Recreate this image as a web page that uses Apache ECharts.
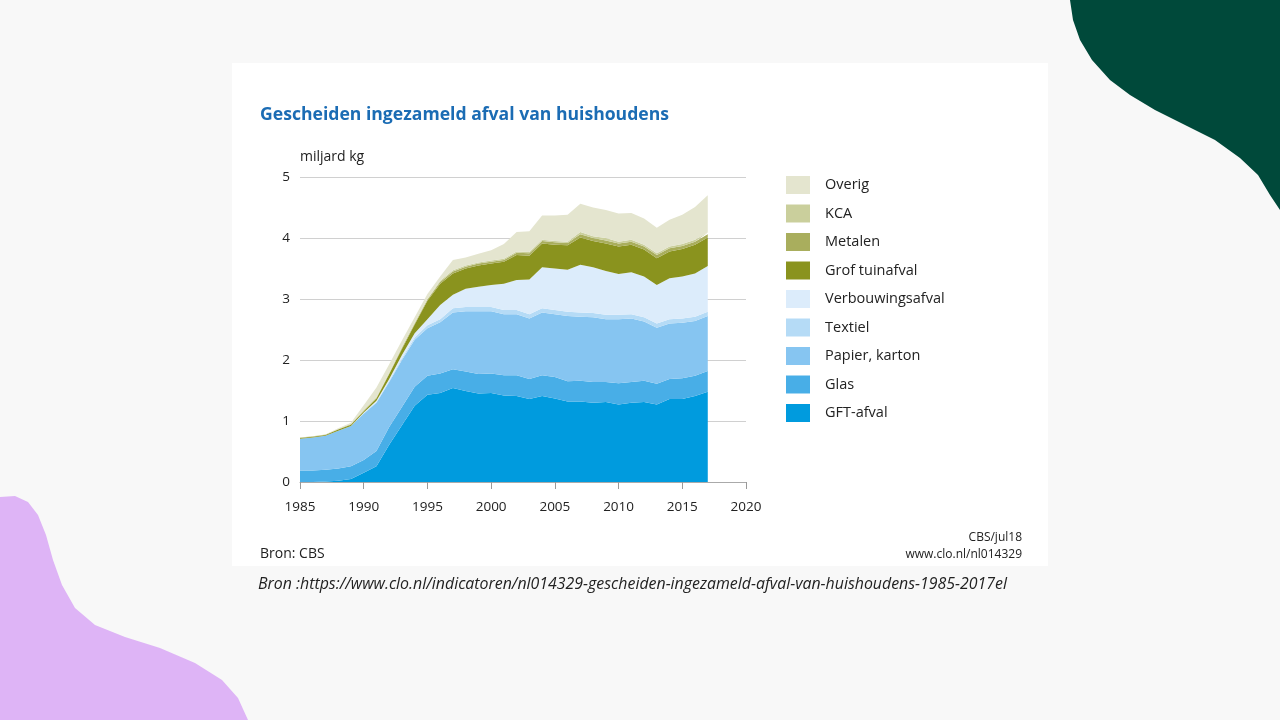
<!doctype html>
<html>
    <head>
        <meta charset="utf-8">
        <style>
            html, body { margin: 0; padding: 0; background: #f8f8f8; }
            #main { width: 1280px; height: 720px; }
        </style>
    </head>
    <body>
        <div id="main"></div>
        <script src="https://cdn.jsdelivr.net/npm/echarts@6/dist/echarts.min.js"></script>
        <script>
            // jaren 1985-2017, miljard kg; de as loopt door tot 2020
            var axisYears = [];
            for (var y = 1985; y <= 2020; y++) axisYears.push(String(y));

            var gft = [0.00, 0.00, 0.01, 0.02, 0.05, 0.15, 0.26, 0.61, 0.93, 1.25, 1.43, 1.46, 1.54, 1.49, 1.45, 1.46,
                1.42, 1.41, 1.36, 1.41, 1.37, 1.32, 1.32, 1.30, 1.31, 1.27, 1.30, 1.31, 1.27, 1.36, 1.36, 1.41, 1.48];
            var glas = [0.19, 0.19, 0.19, 0.20, 0.21, 0.21, 0.25, 0.29, 0.30, 0.31, 0.31, 0.32, 0.31, 0.32, 0.32, 0.32,
                0.33, 0.34, 0.33, 0.34, 0.35, 0.33, 0.34, 0.34, 0.33, 0.35, 0.34, 0.35, 0.34, 0.33, 0.34, 0.33, 0.34];
            var papier = [0.52, 0.54, 0.56, 0.62, 0.66, 0.76, 0.79, 0.74, 0.77, 0.77, 0.78, 0.84, 0.93, 0.99, 1.03, 1.02,
                1.00, 1.00, 0.99, 1.03, 1.03, 1.07, 1.05, 1.06, 1.03, 1.05, 1.04, 0.97, 0.92, 0.91, 0.91, 0.90, 0.90];
            var textiel = [0, 0, 0, 0, 0, 0.01, 0.01, 0.02, 0.03, 0.04, 0.05, 0.05, 0.07, 0.07, 0.07, 0.07,
                0.07, 0.07, 0.07, 0.07, 0.07, 0.07, 0.07, 0.07, 0.07, 0.07, 0.07, 0.07, 0.07, 0.07, 0.07, 0.07, 0.07];
            var verbouw = [0, 0, 0, 0, 0, 0.01, 0.02, 0.03, 0.05, 0.07, 0.10, 0.23, 0.22, 0.30, 0.33, 0.36,
                0.43, 0.49, 0.57, 0.67, 0.68, 0.69, 0.78, 0.75, 0.72, 0.67, 0.69, 0.67, 0.63, 0.67, 0.69, 0.71, 0.75];
            var grof = [0.01, 0.01, 0.01, 0.02, 0.02, 0.02, 0.04, 0.08, 0.10, 0.14, 0.30, 0.35, 0.35, 0.33, 0.35, 0.35,
                0.36, 0.41, 0.39, 0.39, 0.39, 0.40, 0.45, 0.43, 0.45, 0.45, 0.45, 0.44, 0.44, 0.44, 0.45, 0.47, 0.47];
            var metalen = [0.005, 0.005, 0.005, 0.005, 0.005, 0.01, 0.01, 0.01, 0.02, 0.02, 0.02, 0.03, 0.03, 0.03, 0.03, 0.03,
                0.03, 0.04, 0.04, 0.04, 0.04, 0.04, 0.05, 0.05, 0.05, 0.05, 0.05, 0.05, 0.05, 0.05, 0.05, 0.05, 0.05];
            var kca = [0.005, 0.005, 0.005, 0.005, 0.005, 0.01, 0.01, 0.01, 0.01, 0.01, 0.01, 0.02, 0.02, 0.02, 0.02, 0.02,
                0.02, 0.02, 0.02, 0.02, 0.02, 0.02, 0.04, 0.03, 0.04, 0.03, 0.03, 0.03, 0.03, 0.03, 0.03, 0.03, 0.03];
            var overig = [0, 0, 0, 0.01, 0.02, 0.08, 0.16, 0.14, 0.11, 0.09, 0.08, 0.07, 0.17, 0.13, 0.14, 0.17,
                0.24, 0.32, 0.34, 0.40, 0.42, 0.44, 0.46, 0.47, 0.46, 0.46, 0.44, 0.43, 0.42, 0.44, 0.48, 0.54, 0.61];

            var names = ['GFT-afval', 'Glas', 'Papier, karton', 'Textiel', 'Verbouwingsafval',
                'Grof tuinafval', 'Metalen', 'KCA', 'Overig'];
            var values = [gft, glas, papier, textiel, verbouw, grof, metalen, kca, overig];
            var colors = ['#009bde', '#48aee7', '#86c5f1', '#b5dbf6', '#dcecfb',
                '#8a931e', '#a9ae5d', '#cacf9c', '#e4e5cf'];

            var font = '"Open Sans", "Noto Sans", sans-serif';

            // decoratieve vormen in de hoeken
            var greenBlob = [[1070, 0], [1073, 20], [1080, 40], [1092, 60], [1110, 80], [1130, 95], [1155, 110],
                [1185, 125], [1215, 140], [1240, 158], [1258, 175], [1270, 195], [1280, 210], [1280, 0]];
            var purpleBlob = [[0, 497], [15, 496], [28, 502], [38, 515], [46, 535], [53, 560], [62, 585], [75, 608],
                [95, 625], [125, 637], [160, 648], [195, 663], [222, 680], [238, 698], [248, 720], [0, 720]];

            var chart = echarts.init(document.getElementById('main'));

            chart.setOption({
                backgroundColor: '#f8f8f8',
                textStyle: { fontFamily: font },
                animation: false,
                graphic: [
                    { type: 'rect', z: -10, shape: { x: 232, y: 63, width: 816, height: 503 }, style: { fill: '#ffffff' } },
                    { type: 'polygon', z: -10, shape: { points: greenBlob }, style: { fill: '#00493a' } },
                    { type: 'polygon', z: -10, shape: { points: purpleBlob }, style: { fill: '#deb4f6' } },
                    { type: 'text', left: 260, top: 106, style: { text: 'Gescheiden ingezameld afval van huishoudens',
                        font: 'bold 17.6px ' + font, fill: '#1b6cb4' } },
                    { type: 'text', left: 300, top: 150, style: { text: 'miljard kg', font: '14px ' + font, fill: '#222' } },
                    { type: 'text', left: 260, top: 547, style: { text: 'Bron: CBS', font: '14px ' + font, fill: '#222' } },
                    { type: 'text', right: 258, top: 532, style: { text: 'CBS/jul18', font: '12px ' + font, fill: '#222', align: 'right' } },
                    { type: 'text', right: 258, top: 549, style: { text: 'www.clo.nl/nl014329', font: '12px ' + font, fill: '#222', align: 'right' } },
                    { type: 'text', left: 258, top: 576, style: { text: 'Bron :https://www.clo.nl/indicatoren/nl014329-gescheiden-ingezameld-afval-van-huishoudens-1985-2017el',
                        font: 'italic 15.9px ' + font, fill: '#222' } }
                ],
                legend: {
                    orient: 'vertical',
                    left: 786,
                    top: 176,
                    padding: 0,
                    icon: 'rect',
                    itemWidth: 24,
                    itemHeight: 18,
                    itemGap: 10.5,
                    data: names.slice().reverse(),
                    textStyle: { fontSize: 14.5, color: '#222', fontFamily: font, padding: [0, 0, 0, 10] }
                },
                grid: { left: 300, top: 177, width: 446, height: 305 },
                xAxis: {
                    type: 'category',
                    data: axisYears,
                    boundaryGap: false,
                    axisLine: { show: true, lineStyle: { color: '#aaa' } },
                    axisTick: { show: true, interval: 4, length: 7, lineStyle: { color: '#999' } },
                    splitLine: { show: false },
                    axisLabel: { interval: 4, color: '#222', fontSize: 13.5, margin: 18 }
                },
                yAxis: {
                    type: 'value',
                    min: 0,
                    max: 5,
                    interval: 1,
                    axisLine: { show: false },
                    axisTick: { show: false },
                    splitLine: { lineStyle: { color: '#d0d0d0' } },
                    axisLabel: { color: '#222', fontSize: 13.5, margin: 10 }
                },
                series: names.map(function (name, i) {
                    return {
                        name: name,
                        type: 'line',
                        stack: 'afval',
                        symbol: 'none',
                        color: colors[i],
                        lineStyle: { width: 0 },
                        areaStyle: { color: colors[i], opacity: 1 },
                        data: values[i]
                    };
                })
            });
        </script>
    </body>
</html>
